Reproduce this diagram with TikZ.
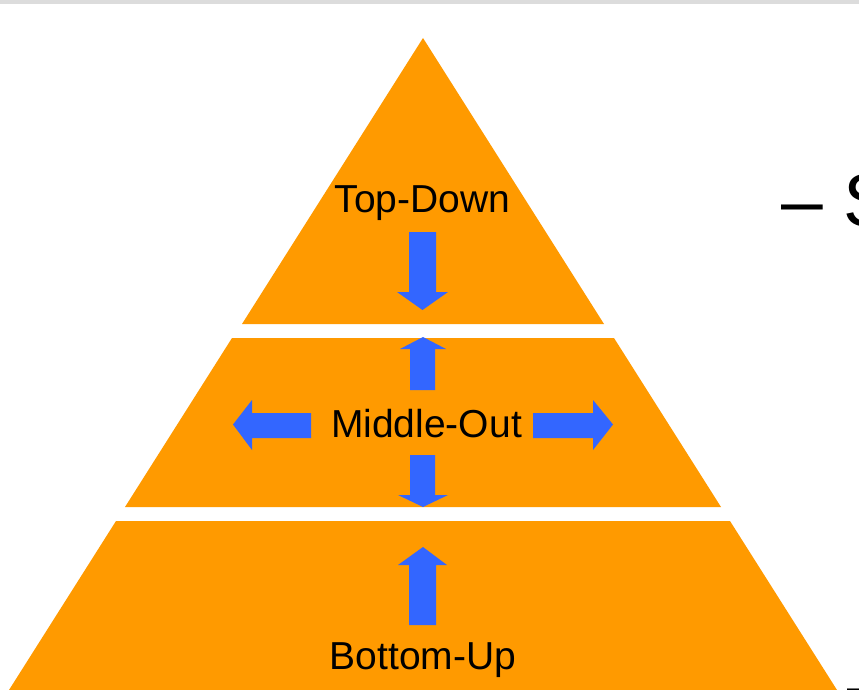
\documentclass[tikz,border=0pt]{standalone}
\usepackage{fontspec}
\setmainfont{Liberation Sans}
\definecolor{pyrorange}{HTML}{FF9A00}
\definecolor{arrblue}{HTML}{3366FF}
\definecolor{topgray}{HTML}{DCDCDC}
\begin{document}
\begin{tikzpicture}[x=1pt,y=-1pt,
  band/.style={fill=pyrorange,draw=none},
  barrow/.style={fill=arrblue,draw=none},
  lbl/.style={inner sep=0pt,anchor=base,font=\fontsize{39}{39}\selectfont,text=black},
  bigtxt/.style={inner sep=0pt,anchor=base west,font=\fontsize{75}{75}\selectfont,text=black}]
\useasboundingbox (0,0) rectangle (859,690);
\clip (0,0) rectangle (859,690);
\fill[white] (0,0) rectangle (859,690);
\fill[topgray] (0,0) rectangle (859,4);
% pyramid bands (apex (423,38), half-width = 0.635*(y-38))
\path[band] (423,38) -- (604,324) -- (242,324) -- cycle;
\path[band] (232,338) -- (614,338) -- (721,507) -- (125,507) -- cycle;
\path[band] (116,521) -- (730,521) -- (837,690) -- (9,690) -- cycle;
% top-down arrow
\path[barrow] (409,232) -- (436,232) -- (436,292) -- (448,292) -- (422.5,310) -- (397,292) -- (409,292) -- cycle;
% middle up arrow
\path[barrow] (410,390) -- (435,390) -- (435,349) -- (446,349) -- (423,337) -- (400,349) -- (410,349) -- cycle;
% middle down arrow
\path[barrow] (410,455) -- (435,455) -- (435,495) -- (448,495) -- (423,507) -- (398,495) -- (410,495) -- cycle;
% middle left arrow
\path[barrow] (311,413) -- (311,438) -- (252,438) -- (252,450) -- (233,424.5) -- (252,400) -- (252,413) -- cycle;
% middle right arrow
\path[barrow] (533,413) -- (533,438) -- (593,438) -- (593,450) -- (613,424.5) -- (593,400) -- (593,413) -- cycle;
% bottom up arrow
\path[barrow] (409,625) -- (436,625) -- (436,565) -- (447,565) -- (423,547) -- (398,565) -- (409,565) -- cycle;
% labels
\node[lbl] (td) at (422.5,212) {Top-Down};
\node[lbl] (mo) at (426.5,437) {Middle-Out};
\node[lbl] (bu) at (423,669) {Bottom-Up};
% cut-off text on the right
\node[bigtxt] (rs) at (781,226) {– S};
\node[bigtxt] (rd) at (847,710) {–};
\end{tikzpicture}
\end{document}
